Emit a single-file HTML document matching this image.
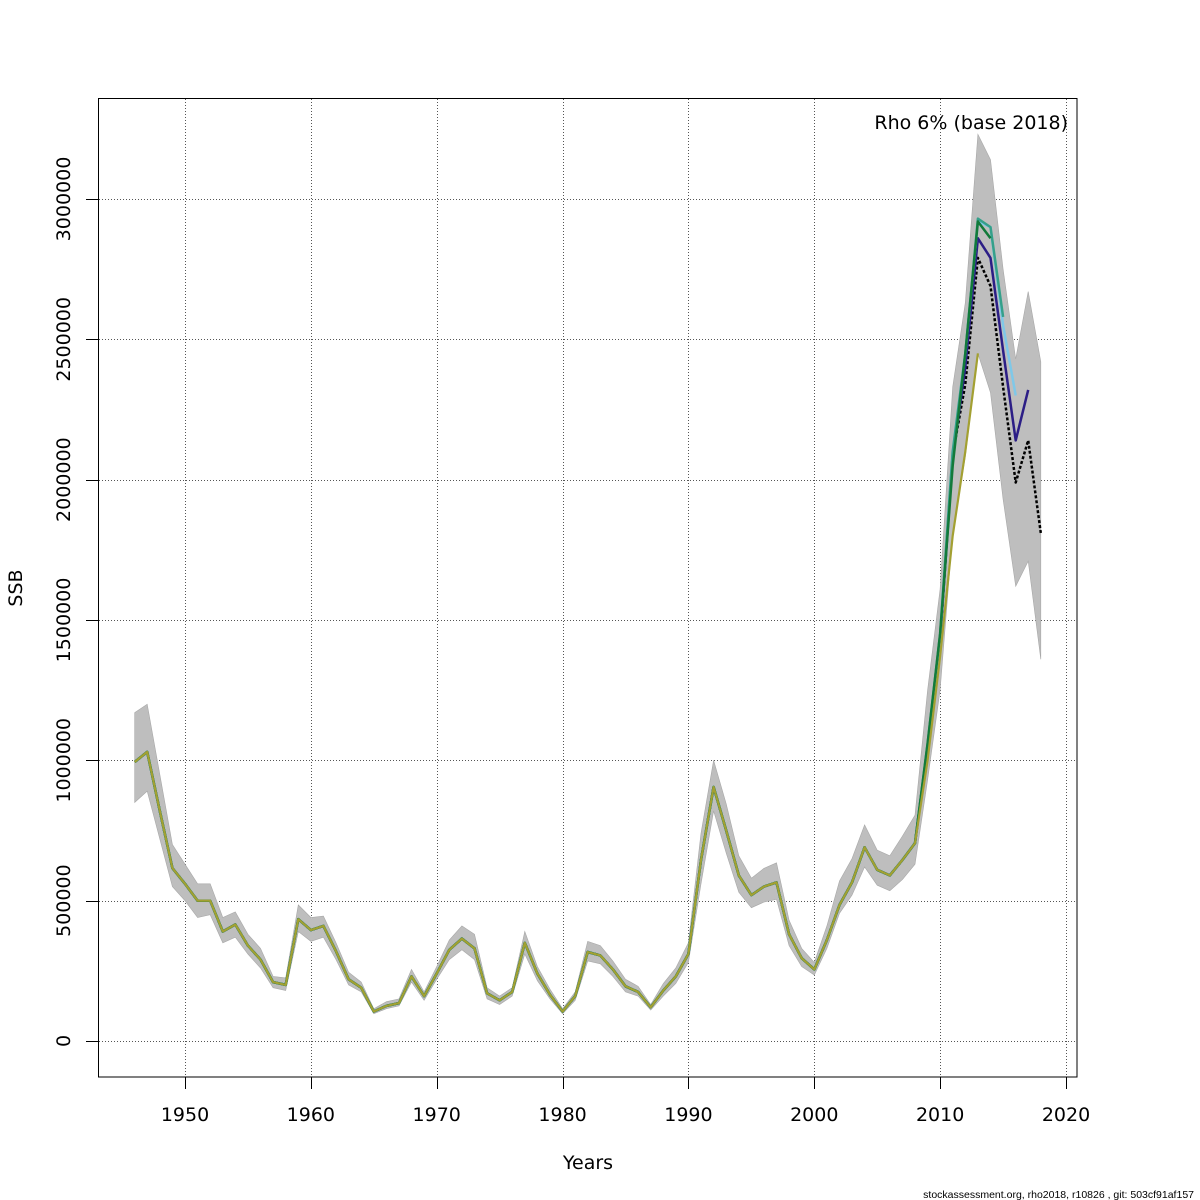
<!DOCTYPE html>
<html><head><meta charset="utf-8"><style>
html,body{margin:0;padding:0;background:#fff;}
svg{display:block;font-family:"DejaVu Sans","Liberation Sans",sans-serif;}
</style></head><body>
<svg id="chart" width="1200" height="1200" viewBox="0 0 1200 1200">
<rect x="0" y="0" width="1200" height="1200" fill="#fff"/>
<g id="grid"></g>
<g id="band"></g>
<g id="lines"></g>
<rect x="98.5" y="98.5" width="978.5" height="978.5" fill="none" stroke="#000" stroke-width="1"/>
<g id="axes"></g>
<text x="1068" y="129" font-size="19" text-anchor="end">Rho 6% (base 2018)</text>
<text x="588" y="1169" font-size="19" text-anchor="middle">Years</text>
<text x="0" y="0" font-size="19" text-anchor="middle" transform="translate(22,588) rotate(-90)">SSB</text>
<text x="1194" y="1198" font-size="10.5" text-anchor="end" font-family="Liberation Sans, sans-serif">stockassessment.org, rho2018, r10826 , git: 503cf91af157</text>
</svg>
<script>
const firstYear = 1946;
const ssb = [0.994,1.03,0.82,0.616,0.56,0.50,0.50,0.39,0.415,0.34,
0.29,0.21,0.20,0.434,0.395,0.41,0.32,0.22,0.19,0.105,
0.125,0.135,0.23,0.16,0.24,0.325,0.365,0.33,0.17,0.145,
0.175,0.35,0.24,0.165,0.105,0.16,0.317,0.305,0.255,0.195,
0.175,0.12,0.18,0.23,0.31,0.645,0.905,0.75,0.59,0.52,
0.55,0.565,0.38,0.295,0.255,0.36,0.485,0.565,0.69,0.61,
0.59,0.645,0.705,1.05,1.43,2.09,2.34,2.79,2.69,2.33,
1.99,2.14,1.81];
const upper = [1.17,1.20,0.95,0.70,0.63,0.56,0.56,0.44,0.46,0.38,
0.33,0.23,0.225,0.485,0.44,0.445,0.35,0.245,0.21,0.115,
0.14,0.15,0.255,0.175,0.265,0.36,0.41,0.38,0.19,0.16,
0.19,0.39,0.265,0.185,0.115,0.175,0.355,0.34,0.285,0.22,
0.195,0.13,0.205,0.26,0.35,0.74,1.0,0.845,0.66,0.58,
0.615,0.635,0.43,0.33,0.28,0.41,0.57,0.65,0.77,0.68,
0.66,0.73,0.805,1.25,1.61,2.33,2.63,3.23,3.14,2.75,
2.43,2.67,2.42];
const lower = [0.85,0.89,0.72,0.55,0.50,0.44,0.45,0.35,0.37,0.31,
0.26,0.19,0.18,0.39,0.355,0.37,0.29,0.20,0.175,0.097,
0.115,0.125,0.21,0.145,0.22,0.29,0.325,0.29,0.15,0.13,
0.16,0.31,0.215,0.15,0.097,0.145,0.285,0.275,0.23,0.175,
0.16,0.11,0.16,0.205,0.28,0.56,0.82,0.67,0.53,0.475,
0.495,0.505,0.34,0.265,0.235,0.33,0.455,0.52,0.62,0.555,
0.535,0.575,0.63,0.93,1.25,1.81,2.08,2.45,2.31,1.93,
1.62,1.71,1.36];
// retrospective peels: tail values starting at tailStart, earlier years follow ssb
const retroTailStart = 2009;
const retro2017 = [1.05,1.43,2.08,2.40,2.86,2.79,2.46,2.14,2.32];
const retro2016 = [1.05,1.44,2.10,2.45,2.92,2.90,2.55,2.30];
const retro2015 = [1.06,1.45,2.10,2.45,2.93,2.90,2.58];
const retro2014 = [1.06,1.45,2.05,2.45,2.92,2.86];
const retro2013 = [1.00,1.37,1.80,2.10,2.45];
const xTicks = [1950,1960,1970,1980,1990,2000,2010,2020];
const yTicks = [0,500000,1000000,1500000,2000000,2500000,3000000];

const NS = "http://www.w3.org/2000/svg";
function X(yr){ return 185 + (yr-1950)*(1066-185)/70; }
function Y(v){ return 1041 - v*(1041-199)/3000000; } // v in tonnes
function Ym(m){ return Y(m*1e6); }
function mk(tag, attrs, parent){
  const e = document.createElementNS(NS, tag);
  for (const k in attrs) e.setAttribute(k, attrs[k]);
  parent.appendChild(e); return e;
}
const grid = document.getElementById('grid');
const axes = document.getElementById('axes');
xTicks.forEach(t=>{
  const x = Math.round(X(t))+0.5;
  const g = mk('line',{x1:x,x2:x,y1:99,y2:1077,stroke:'#555','stroke-width':1,'stroke-dasharray':'1 2'},grid);
  
  
  const tk = mk('line',{x1:x,x2:x,y1:1077,y2:1089,stroke:'#000','stroke-width':1},axes);
  
  
  const lb = mk('text',{x:X(t),y:1121,'font-size':19,'text-anchor':'middle'},axes);
  lb.textContent = t;
  
  
});
yTicks.forEach(t=>{
  const y = Math.round(Y(t))+0.5;
  const g = mk('line',{x1:99,x2:1077,y1:y,y2:y,stroke:'#555','stroke-width':1,'stroke-dasharray':'1 2'},grid);
  
  
  const tk = mk('line',{x1:86,x2:98,y1:y,y2:y,stroke:'#000','stroke-width':1},axes);
  
  
  const lb = mk('text',{x:0,y:0,'font-size':19,'text-anchor':'middle',transform:`translate(70,${Y(t)}) rotate(-90)`},axes);
  lb.textContent = t;
  
  
});
// band
const bandPts = [];
upper.forEach((v,i)=>bandPts.push(X(firstYear+i).toFixed(1)+','+Ym(v).toFixed(1)));
for (let i=lower.length-1;i>=0;i--) bandPts.push(X(firstYear+i).toFixed(1)+','+Ym(lower[i]).toFixed(1));
const bp = mk('polygon',{points:bandPts.join(' '),fill:'#bebebe',stroke:'#a8a8a8','stroke-width':0.6},document.getElementById('band'));



const lines = document.getElementById('lines');
function seriesPts(tail){
  const pts=[];
  const n = retroTailStart - firstYear;
  for (let i=0;i<n;i++) pts.push([firstYear+i, ssb[i]]);
  tail.forEach((v,j)=>pts.push([retroTailStart+j, v]));
  return pts;
}
function drawLine(pts, color, width, dash, name){
  const d = pts.map((p,i)=>(i?'L':'M')+X(p[0]).toFixed(1)+' '+Ym(p[1]).toFixed(1)).join(' ');
  const attrs = {d:d,fill:'none',stroke:color,'stroke-width':width,'stroke-linejoin':'round'};
  if (dash) attrs['stroke-dasharray']=dash;
  const p = mk('path',attrs,lines);
  
  
}
// base (solid black then dotted overlay look)
const basePts = ssb.map((v,i)=>[firstYear+i,v]);
drawLine(basePts,'#000',2.5,'3 2','ssb-line-base-2018');
drawLine(seriesPts(retro2017),'#2c1e86',2.5,null,'retro-line-2017');
drawLine(seriesPts(retro2016),'#7fc8e8',2.5,null,'retro-line-2016');
drawLine(seriesPts(retro2015),'#35a08a',2.5,null,'retro-line-2015');
drawLine(seriesPts(retro2014),'#127a3a',2.5,null,'retro-line-2014');
drawLine(seriesPts(retro2013),'#a3a032',2.2,null,'retro-line-2013');
</script>
</body></html>
